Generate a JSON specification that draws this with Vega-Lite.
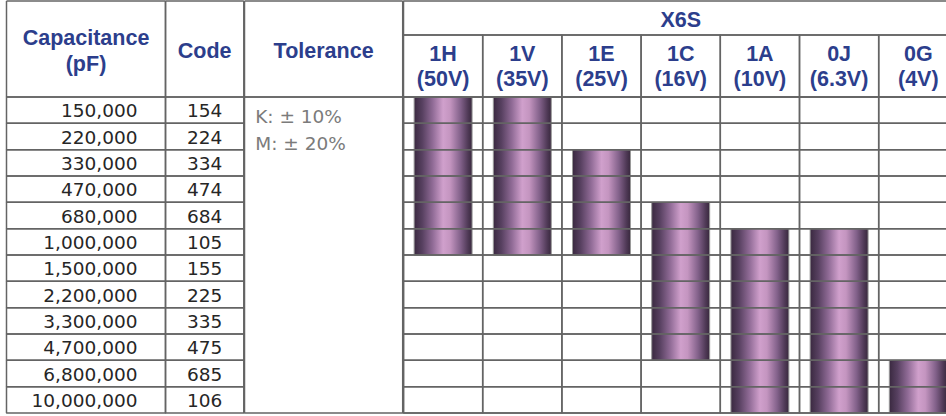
{
  "$schema": "https://vega.github.io/schema/vega-lite/v6.json",
  "padding": {"left": 5.5, "top": 0, "right": 0, "bottom": 1},
  "background": "#ffffff",
  "columns": 4,
  "bounds": "flush",
  "align": "each",
  "spacing": 0,
  "config": {
    "concat": {"spacing": 0},
    "view": {"stroke": null},
    "text": {"font": "DejaVu Sans", "fontSize": 18.5, "color": "#262626", "baseline": "alphabetic"},
    "rule": {"color": "#646464", "strokeWidth": 1.5},
    "rect": {"filled": false, "color": "#646464", "strokeWidth": 1.5, "strokeJoin": "bevel"}
  },
  "datasets": {
    "rows": [
      {"cap": "150,000", "code": "154"},
      {"cap": "220,000", "code": "224"},
      {"cap": "330,000", "code": "334"},
      {"cap": "470,000", "code": "474"},
      {"cap": "680,000", "code": "684"},
      {"cap": "1,000,000", "code": "105"},
      {"cap": "1,500,000", "code": "155"},
      {"cap": "2,200,000", "code": "225"},
      {"cap": "3,300,000", "code": "335"},
      {"cap": "4,700,000", "code": "475"},
      {"cap": "6,800,000", "code": "685"},
      {"cap": "10,000,000", "code": "106"}
    ],
    "voltages": [
      {"code": "1H", "rating": "(50V)"},
      {"code": "1V", "rating": "(35V)"},
      {"code": "1E", "rating": "(25V)"},
      {"code": "1C", "rating": "(16V)"},
      {"code": "1A", "rating": "(10V)"},
      {"code": "0J", "rating": "(6.3V)"},
      {"code": "0G", "rating": "(4V)"}
    ],
    "bars": [
      {"code": "1H", "from": "150,000", "to": "1,000,000"},
      {"code": "1V", "from": "150,000", "to": "1,000,000"},
      {"code": "1E", "from": "330,000", "to": "1,000,000"},
      {"code": "1C", "from": "680,000", "to": "4,700,000"},
      {"code": "1A", "from": "1,000,000", "to": "10,000,000"},
      {"code": "0J", "from": "1,000,000", "to": "10,000,000"},
      {"code": "0G", "from": "6,800,000", "to": "10,000,000"}
    ],
    "tolerances": [
      {"tol": "K: ± 10%", "line": 1},
      {"tol": "M: ± 20%", "line": 2}
    ],
    "capHeader": [{"column": "Capacitance", "header": "Capacitance\n(pF)"}],
    "codeHeader": [{"column": "Code", "header": "Code"}],
    "tolHeader": [{"column": "Tolerance", "header": "Tolerance"}],
    "groupHeader": [{"column": "X6S", "header": "X6S"}]
  },
  "concat": [
    {
      "width": 159, "height": 34, "data": {"name": "capHeader"},
      "layer": [
        {"mark": "rule", "encoding": {"y": {"field": "column", "type": "nominal", "bandPosition": 0, "axis": null, "scale": {"type": "band", "paddingInner": 0, "paddingOuter": 0}}}},
        {"mark": "rule", "encoding": {"x": {"field": "column", "type": "nominal", "bandPosition": 0, "axis": null, "scale": {"type": "band", "paddingInner": 0, "paddingOuter": 0}}}},
        {"mark": "rule", "encoding": {"x": {"field": "column", "type": "nominal", "bandPosition": 1, "axis": null}}}
      ]
    },
    {
      "width": 78.3, "height": 34, "data": {"name": "codeHeader"},
      "layer": [
        {"mark": "rule", "encoding": {"y": {"field": "column", "type": "nominal", "bandPosition": 0, "axis": null, "scale": {"type": "band", "paddingInner": 0, "paddingOuter": 0}}}},
        {"mark": "rule", "encoding": {"x": {"field": "column", "type": "nominal", "bandPosition": 0, "axis": null, "scale": {"type": "band", "paddingInner": 0, "paddingOuter": 0}}}},
        {"mark": "rule", "encoding": {"x": {"field": "column", "type": "nominal", "bandPosition": 1, "axis": null}}}
      ]
    },
    {
      "width": 158.2, "height": 34, "data": {"name": "tolHeader"},
      "layer": [
        {"mark": "rule", "encoding": {"y": {"field": "column", "type": "nominal", "bandPosition": 0, "axis": null, "scale": {"type": "band", "paddingInner": 0, "paddingOuter": 0}}}},
        {"mark": "rule", "encoding": {"x": {"field": "column", "type": "nominal", "bandPosition": 0, "axis": null, "scale": {"type": "band", "paddingInner": 0, "paddingOuter": 0}}}},
        {"mark": "rule", "encoding": {"x": {"field": "column", "type": "nominal", "bandPosition": 1, "axis": null}}}
      ]
    },
    {
      "width": 554.4, "height": 34, "data": {"name": "groupHeader"},
      "layer": [
        {"mark": "rect", "encoding": {
          "x": {"field": "column", "type": "nominal", "axis": null, "scale": {"type": "band", "paddingInner": 0, "paddingOuter": 0}},
          "y": {"field": "column", "type": "nominal", "axis": null, "scale": {"type": "band", "paddingInner": 0, "paddingOuter": 0}}}},
        {"mark": {"type": "text", "font": "Liberation Sans", "fontWeight": "bold", "fontSize": 21.5, "color": "#2c3e8c", "dy": 9}, "encoding": {"text": {"field": "header"}}}
      ]
    },
    {
      "width": 159, "height": 62, "data": {"name": "capHeader"},
      "layer": [
        {"mark": "rule", "encoding": {"y": {"field": "column", "type": "nominal", "bandPosition": 1, "axis": null, "scale": {"type": "band", "paddingInner": 0, "paddingOuter": 0}}}},
        {"mark": "rule", "encoding": {"x": {"field": "column", "type": "nominal", "bandPosition": 0, "axis": null, "scale": {"type": "band", "paddingInner": 0, "paddingOuter": 0}}}},
        {"mark": "rule", "encoding": {"x": {"field": "column", "type": "nominal", "bandPosition": 1, "axis": null}}},
        {"mark": {"type": "text", "font": "Liberation Sans", "fontWeight": "bold", "fontSize": 21.5, "color": "#2c3e8c", "lineBreak": "\n", "lineHeight": 25.5, "dy": -21}, "encoding": {"text": {"field": "header"}}}
      ]
    },
    {
      "width": 78.3, "height": 62, "data": {"name": "codeHeader"},
      "layer": [
        {"mark": "rule", "encoding": {"y": {"field": "column", "type": "nominal", "bandPosition": 1, "axis": null, "scale": {"type": "band", "paddingInner": 0, "paddingOuter": 0}}}},
        {"mark": "rule", "encoding": {"x": {"field": "column", "type": "nominal", "bandPosition": 0, "axis": null, "scale": {"type": "band", "paddingInner": 0, "paddingOuter": 0}}}},
        {"mark": "rule", "encoding": {"x": {"field": "column", "type": "nominal", "bandPosition": 1, "axis": null}}},
        {"mark": {"type": "text", "font": "Liberation Sans", "fontWeight": "bold", "fontSize": 21.5, "color": "#2c3e8c", "dy": -7.7}, "encoding": {"text": {"field": "header"}}}
      ]
    },
    {
      "width": 158.2, "height": 62, "data": {"name": "tolHeader"},
      "layer": [
        {"mark": "rule", "encoding": {"y": {"field": "column", "type": "nominal", "bandPosition": 1, "axis": null, "scale": {"type": "band", "paddingInner": 0, "paddingOuter": 0}}}},
        {"mark": "rule", "encoding": {"x": {"field": "column", "type": "nominal", "bandPosition": 0, "axis": null, "scale": {"type": "band", "paddingInner": 0, "paddingOuter": 0}}}},
        {"mark": "rule", "encoding": {"x": {"field": "column", "type": "nominal", "bandPosition": 1, "axis": null}}},
        {"mark": {"type": "text", "font": "Liberation Sans", "fontWeight": "bold", "fontSize": 21.5, "color": "#2c3e8c", "dy": -7.7}, "encoding": {"text": {"field": "header"}}}
      ]
    },
    {
      "width": 554.4, "height": 62, "data": {"name": "voltages"},
      "encoding": {"x": {"field": "code", "type": "nominal", "sort": null, "axis": null, "scale": {"type": "band", "paddingInner": 0, "paddingOuter": 0}}},
      "layer": [
        {"mark": "rect"},
        {"mark": {"type": "text", "font": "Liberation Sans", "fontWeight": "bold", "fontSize": 21.5, "color": "#2c3e8c", "dy": -5.5}, "encoding": {"text": {"field": "code"}}},
        {"mark": {"type": "text", "font": "Liberation Sans", "fontWeight": "bold", "fontSize": 21.5, "color": "#2c3e8c", "dy": 19.7}, "encoding": {"text": {"field": "rating"}}}
      ]
    },
    {
      "width": 159, "height": 316, "data": {"name": "rows"},
      "encoding": {"y": {"field": "cap", "type": "ordinal", "sort": null, "axis": null, "scale": {"type": "band", "paddingInner": 0, "paddingOuter": 0}}},
      "layer": [
        {"mark": "rect"},
        {"mark": {"type": "text", "align": "right", "dx": 51.5, "dy": 7}, "encoding": {"text": {"field": "cap"}}}
      ]
    },
    {
      "width": 78.3, "height": 316, "data": {"name": "rows"},
      "encoding": {"y": {"field": "cap", "type": "ordinal", "sort": null, "axis": null, "scale": {"type": "band", "paddingInner": 0, "paddingOuter": 0}}},
      "layer": [
        {"mark": "rect"},
        {"mark": {"type": "text", "align": "center", "dy": 7}, "encoding": {"text": {"field": "code"}}}
      ]
    },
    {
      "width": 158.2, "height": 316,
      "layer": [
        {
          "data": {"name": "tolHeader"},
          "mark": "rect",
          "encoding": {"x": {"field": "column", "type": "nominal", "axis": null, "scale": {"type": "band", "paddingInner": 0, "paddingOuter": 0}}}
        },
        {
          "data": {"name": "tolerances"},
          "mark": {"type": "text", "align": "left", "dx": -68.4, "color": "#7b7b7b"},
          "encoding": {
            "y": {"field": "line", "type": "quantitative", "axis": null, "scale": {"domain": [0, 12], "reverse": true, "nice": false, "zero": false}},
            "text": {"field": "tol"}
          }
        }
      ]
    },
    {
      "width": 554.4, "height": 316,
      "layer": [
        {
          "data": {"name": "bars"},
          "mark": {
            "type": "rect", "filled": true, "width": {"band": 0.732},
            "stroke": "#9a9a9a", "strokeWidth": 1,
            "fill": {"gradient": "linear", "x1": 0, "x2": 1, "y1": 0, "y2": 0,
              "stops": [
                {"offset": 0, "color": "#3a2940"},
                {"offset": 0.14, "color": "#574060"},
                {"offset": 0.32, "color": "#906b96"},
                {"offset": 0.5, "color": "#d0a0cc"},
                {"offset": 0.62, "color": "#c495c0"},
                {"offset": 0.8, "color": "#82618a"},
                {"offset": 0.93, "color": "#4f3956"},
                {"offset": 1, "color": "#38283d"}
              ]}
          },
          "encoding": {
            "x": {"field": "code", "type": "nominal", "sort": null, "axis": null, "scale": {"type": "band", "domain": ["1H", "1V", "1E", "1C", "1A", "0J", "0G"], "paddingInner": 0, "paddingOuter": 0}},
            "y": {"field": "from", "type": "ordinal", "bandPosition": 0, "axis": null,
              "scale": {"type": "band", "paddingInner": 0, "paddingOuter": 0,
                "domain": ["150,000", "220,000", "330,000", "470,000", "680,000", "1,000,000", "1,500,000", "2,200,000", "3,300,000", "4,700,000", "6,800,000", "10,000,000"]}},
            "y2": {"field": "to", "bandPosition": 1}
          }
        },
        {
          "data": {"name": "rows"},
          "mark": "rect",
          "encoding": {"y": {"field": "cap", "type": "ordinal", "axis": null}}
        },
        {
          "data": {"name": "voltages"},
          "mark": "rect",
          "encoding": {"x": {"field": "code", "type": "nominal", "axis": null}}
        }
      ]
    }
  ]
}
